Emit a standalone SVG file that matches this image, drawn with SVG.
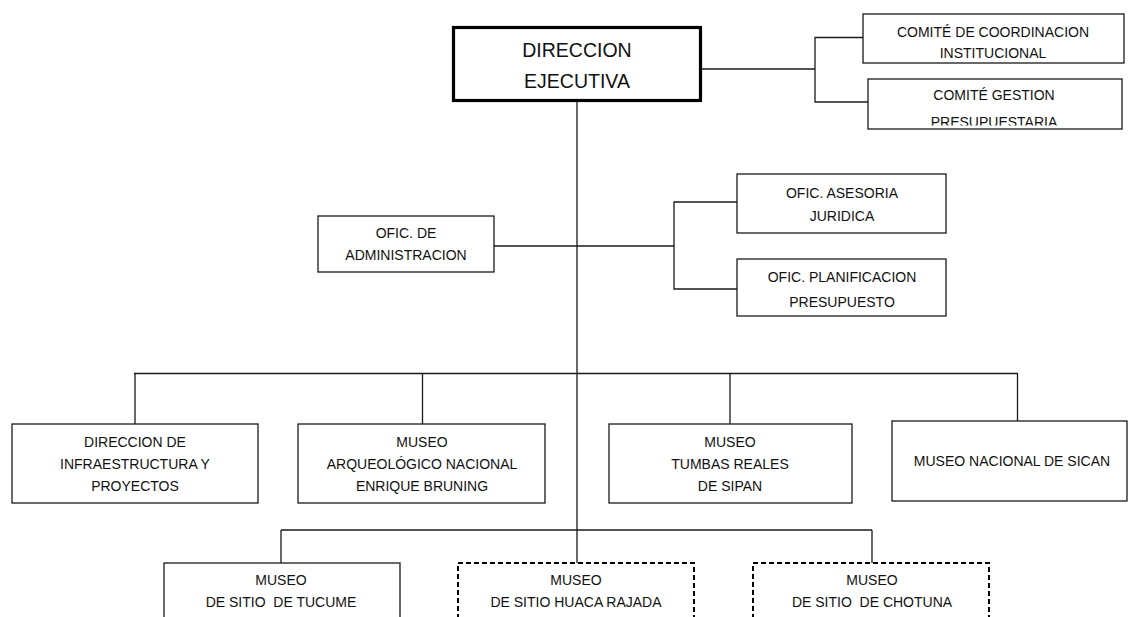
<svg xmlns="http://www.w3.org/2000/svg" width="1128" height="617" viewBox="0 0 1128 617">
<style>
  .box{fill:#fff;stroke:#1a1a1a;stroke-width:1.3}
  .main{fill:#fff;stroke:#000;stroke-width:3.2}
  .dash{fill:#fff;stroke:#000;stroke-width:2;stroke-dasharray:5 3}
  .conn{fill:none;stroke:#1a1a1a;stroke-width:1.3}
  text{font-family:"Liberation Sans",Arial,sans-serif;font-size:14px;fill:#111;text-anchor:middle}
  .big{font-size:19.5px}
</style>
<defs>
  <clipPath id="clipGest"><rect x="860" y="70" width="270" height="55.5"/></clipPath>
</defs>
<rect width="1128" height="617" fill="#fff"/>
<g id="connectors">
  <line class="conn" x1="577" y1="102" x2="577" y2="563"/>
  <line class="conn" x1="702" y1="69" x2="815" y2="69"/>
  <polyline class="conn" points="863,37.5 815,37.5 815,102 868,102"/>
  <line class="conn" x1="494" y1="246" x2="674" y2="246"/>
  <polyline class="conn" points="737,202 674,202 674,289 737,289"/>
  <line class="conn" x1="134" y1="373.5" x2="1018" y2="373.5"/>
  <line class="conn" x1="135" y1="373.5" x2="135" y2="424"/>
  <line class="conn" x1="422.5" y1="373.5" x2="422.5" y2="424"/>
  <line class="conn" x1="730" y1="373.5" x2="730" y2="424"/>
  <line class="conn" x1="1017.5" y1="373.5" x2="1017.5" y2="421"/>
  <line class="conn" x1="281" y1="530" x2="872" y2="530"/>
  <line class="conn" x1="281" y1="530" x2="281" y2="563"/>
  <line class="conn" x1="872" y1="530" x2="872" y2="563"/>
</g>
<g id="direccion-ejecutiva">
  <rect class="main" x="453.5" y="27.5" width="247" height="73"/>
  <text class="big" x="577" y="57">DIRECCION</text>
  <text class="big" x="577" y="88">EJECUTIVA</text>
</g>
<g id="comite-coordinacion">
  <rect class="box" x="863" y="14" width="261" height="49"/>
  <text x="993" y="37">COMITÉ DE COORDINACION</text>
  <text x="993" y="58">INSTITUCIONAL</text>
</g>
<g id="comite-gestion">
  <rect class="box" x="868" y="79" width="254" height="50"/>
  <text x="994" y="100">COMITÉ GESTION</text>
  <text x="994" y="126.5" clip-path="url(#clipGest)">PRESUPUESTARIA</text>
</g>
<g id="ofic-administracion">
  <rect class="box" x="318" y="216" width="176" height="56"/>
  <text x="406" y="238">OFIC. DE</text>
  <text x="406" y="260">ADMINISTRACION</text>
</g>
<g id="ofic-asesoria">
  <rect class="box" x="737" y="174" width="209" height="59"/>
  <text x="842" y="198">OFIC. ASESORIA</text>
  <text x="842" y="221">JURIDICA</text>
</g>
<g id="ofic-planificacion">
  <rect class="box" x="737" y="259" width="209" height="57"/>
  <text x="842" y="282">OFIC. PLANIFICACION</text>
  <text x="842" y="307">PRESUPUESTO</text>
</g>
<g id="direccion-infraestructura">
  <rect class="box" x="12" y="424" width="246" height="79"/>
  <text x="135" y="447">DIRECCION DE</text>
  <text x="135" y="469">INFRAESTRUCTURA Y</text>
  <text x="135" y="491">PROYECTOS</text>
</g>
<g id="museo-bruning">
  <rect class="box" x="298" y="424" width="247" height="79"/>
  <text x="422" y="447">MUSEO</text>
  <text x="422" y="469">ARQUEOLÓGICO NACIONAL</text>
  <text x="422" y="491">ENRIQUE BRUNING</text>
</g>
<g id="museo-sipan">
  <rect class="box" x="609" y="424" width="243" height="79"/>
  <text x="730" y="447">MUSEO</text>
  <text x="730" y="469">TUMBAS REALES</text>
  <text x="730" y="491">DE SIPAN</text>
</g>
<g id="museo-sican">
  <rect class="box" x="892" y="421" width="235" height="80"/>
  <text x="1012" y="466">MUSEO NACIONAL DE SICAN</text>
</g>
<g id="museo-tucume">
  <rect class="box" x="164" y="563" width="236" height="80"/>
  <text x="281" y="585">MUSEO</text>
  <text x="281" y="607" xml:space="preserve">DE SITIO  DE TUCUME</text>
</g>
<g id="museo-huaca-rajada">
  <rect class="dash" x="458" y="563" width="236" height="80"/>
  <text x="576" y="585">MUSEO</text>
  <text x="576" y="607">DE SITIO HUACA RAJADA</text>
</g>
<g id="museo-chotuna">
  <rect class="dash" x="753" y="563" width="236" height="80"/>
  <text x="872" y="585">MUSEO</text>
  <text x="872" y="607" xml:space="preserve">DE SITIO  DE CHOTUNA</text>
</g>
</svg>
